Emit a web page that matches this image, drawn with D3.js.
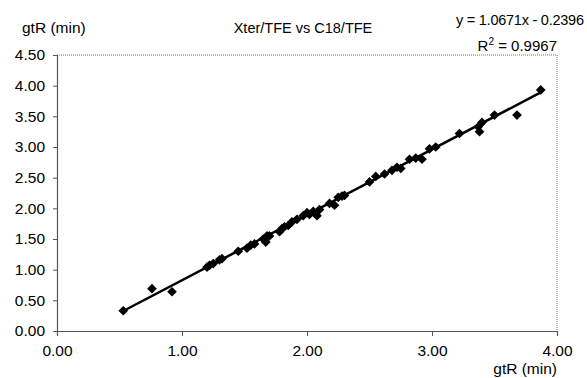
<!DOCTYPE html>
<html><head><meta charset="utf-8">
<script src="https://cdn.jsdelivr.net/npm/d3@7/dist/d3.min.js"></script>
<style>
html,body{margin:0;padding:0;background:#fff;}
svg text{font-family:"Liberation Sans",Arial,sans-serif;fill:#000;}
</style></head><body>
<svg id="c" width="587" height="378"></svg>
<script>
const xVals = [0.53,0.76,0.92,1.20,1.22,1.25,1.30,1.32,1.45,1.52,1.55,1.58,1.65,1.67,1.68,1.70,1.78,1.80,1.82,1.85,1.88,1.92,1.97,2.00,2.02,2.05,2.08,2.10,2.18,2.22,2.25,2.28,2.30,2.50,2.55,2.62,2.68,2.72,2.75,2.82,2.87,2.92,2.98,3.03,3.22,3.37,3.38,3.40,3.50,3.68,3.87];
const yVals = [0.33,0.69,0.64,1.04,1.07,1.10,1.16,1.18,1.30,1.35,1.40,1.42,1.50,1.45,1.55,1.55,1.62,1.67,1.70,1.72,1.78,1.82,1.88,1.93,1.90,1.95,1.88,1.98,2.08,2.05,2.18,2.20,2.21,2.43,2.52,2.56,2.62,2.67,2.65,2.80,2.82,2.80,2.97,3.00,3.22,3.33,3.25,3.40,3.52,3.52,3.93];
const xTicks = [0,1,2,3,4];
const yTicks = [0,0.5,1,1.5,2,2.5,3,3.5,4,4.5];
const slope = 1.0671, intercept = -0.2396;
const titleText = "Xter/TFE vs C18/TFE";
const yTitle = "gtR (min)";
const xTitle = "gtR (min)";

const svg = d3.select("#c");
const L = 57, R = 557, T = 55, B = 331;
const x = d3.scaleLinear().domain([0,4]).range([L,R]);
const y = d3.scaleLinear().domain([0,4.5]).range([B,T]);

svg.append("path").attr("d",`M${L},${T}H${R}V${B}`).attr("fill","none").attr("stroke","#777").attr("stroke-width",1).attr("stroke-dasharray","1,1");

const xa = svg.append("g").attr("transform",`translate(0,${B})`)
  .call(d3.axisBottom(x).tickValues(xTicks).tickFormat(d3.format(".2f")).tickSize(5).tickPadding(9));
const ya = svg.append("g").attr("transform",`translate(${L},0)`)
  .call(d3.axisLeft(y).tickValues(yTicks).tickFormat(d3.format(".2f")).tickSize(4).tickPadding(8));
[xa,ya].forEach(a=>{
  a.select(".domain").attr("stroke","#555").attr("stroke-width",1.2);
  a.selectAll(".tick line").attr("stroke","#555");
  a.selectAll("text").attr("font-size",15.5).attr("font-family","Liberation Sans, Arial, sans-serif").attr("fill","#000");
});

const x0 = d3.min(xVals), x1 = d3.max(xVals);
svg.append("line").attr("x1",x(x0)).attr("y1",y(slope*x0+intercept))
  .attr("x2",x(x1)).attr("y2",y(slope*x1+intercept))
  .attr("stroke","#000").attr("stroke-width",2.5);

const sym = d3.symbol().type(d3.symbolDiamond2).size(60);
svg.append("g").selectAll("path").data(xVals.map((v,i)=>[v,yVals[i]])).join("path")
  .attr("d",sym).attr("transform",d=>`translate(${x(d[0])},${y(d[1])})`).attr("fill","#000");

svg.append("text").attr("x",303).attr("y",33).attr("text-anchor","middle").attr("font-size",14.5).text(titleText);
svg.append("text").attr("x",22).attr("y",33).attr("font-size",15.5).text(yTitle);
svg.append("text").attr("x",557).attr("y",374).attr("text-anchor","end").attr("font-size",15.5).text(xTitle);
svg.append("text").attr("x",584).attr("y",25).attr("text-anchor","end").attr("font-size",14.5).attr("textLength",128).text("y = 1.0671x - 0.2396");
const r2 = svg.append("text").attr("x",557).attr("y",51).attr("text-anchor","end").attr("font-size",15);
r2.append("tspan").text("R");
r2.append("tspan").attr("dy",-6).attr("font-size",10).text("2");
r2.append("tspan").attr("dy",6).text(" = 0.9967");
</script></body></html>
